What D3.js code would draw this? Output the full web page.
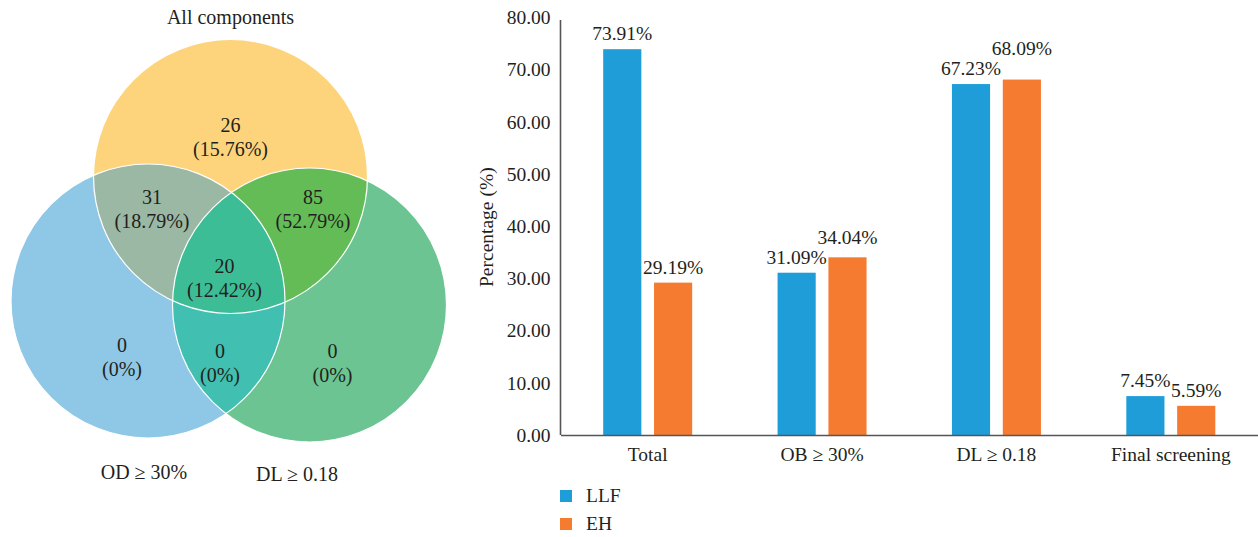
<!DOCTYPE html>
<html>
<head>
<meta charset="utf-8">
<script src="https://cdn.jsdelivr.net/npm/d3@7"></script>
<style>
  html, body { margin: 0; padding: 0; background: #fff; }
  svg { display: block; }
  svg text { font-family: "Liberation Serif", "DejaVu Serif", serif; fill: #231f20; }
</style>
</head>
<body>
<svg id="chart" width="1258" height="537"></svg>
<script>
// ---- Venn diagram data ----
const vennSets = ["All components", "OD ≥ 30%", "DL ≥ 0.18"];
const vennRegions = ["A", "B", "C", "AB", "AC", "BC", "ABC"];
const vennCounts = [26, 0, 0, 31, 85, 0, 20];
const vennPercents = ["15.76%", "0%", "0%", "18.79%", "52.79%", "0%", "12.42%"];

// ---- Bar chart data ----
const categories = ["Total", "OB ≥ 30%", "DL ≥ 0.18", "Final screening"];
const seriesNames = ["LLF", "EH"];
const llfValues = [73.91, 31.09, 67.23, 7.45];
const ehValues = [29.19, 34.04, 68.09, 5.59];
const yTicks = [0, 10, 20, 30, 40, 50, 60, 70, 80];

const FONT = "'Liberation Serif', 'DejaVu Serif', serif";
const svg = d3.select("#chart");

// ================= Venn diagram =================
const venn = svg.append("g");
const R = 137;
// circle layout: centre of each set
const circles = [
  { key: "A", cx: 230.5, cy: 176.5, fill: "#fdd47b" },
  { key: "B", cx: 148,   cy: 301,   fill: "#8fc8e6" },
  { key: "C", cx: 309.5, cy: 305,   fill: "#6bc491" }
];
const overlapFill = { AB: "#9bb8a4", AC: "#63bc56", BC: "#41bfb1", ABC: "#3dbd96" };

const defs = svg.append("defs");
circles.forEach(c => {
  defs.append("clipPath").attr("id", "clip" + c.key)
    .append("circle").attr("cx", c.cx).attr("cy", c.cy).attr("r", R);
});
const byKey = Object.fromEntries(circles.map(c => [c.key, c]));

// base circles
venn.selectAll("circle.base").data(circles).join("circle")
  .attr("class", "base")
  .attr("cx", d => d.cx).attr("cy", d => d.cy).attr("r", R)
  .attr("fill", d => d.fill);

// pairwise overlaps
[["A", "B"], ["A", "C"], ["B", "C"]].forEach(([p, q]) => {
  venn.append("g").attr("clip-path", `url(#clip${p})`)
    .append("circle")
    .attr("cx", byKey[q].cx).attr("cy", byKey[q].cy).attr("r", R)
    .attr("fill", overlapFill[p + q]);
});
// triple overlap
venn.append("g").attr("clip-path", "url(#clipA)")
  .append("g").attr("clip-path", "url(#clipB)")
  .append("circle")
  .attr("cx", byKey.C.cx).attr("cy", byKey.C.cy).attr("r", R)
  .attr("fill", overlapFill.ABC);

// white outlines between regions
venn.selectAll("circle.edge").data(circles).join("circle")
  .attr("class", "edge")
  .attr("cx", d => d.cx).attr("cy", d => d.cy).attr("r", R)
  .attr("fill", "none").attr("stroke", "#fff").attr("stroke-width", 1.2);

// region label anchors
const regionPos = {
  A:   [230.5, 132],
  B:   [122, 352],
  C:   [332.5, 358],
  AB:  [152, 204],
  AC:  [313, 204],
  BC:  [220, 358],
  ABC: [224.5, 273]
};
const regionData = vennRegions.map((r, i) => ({ r, count: vennCounts[i], pct: vennPercents[i] }));
const regionText = venn.selectAll("g.region").data(regionData).join("g")
  .attr("class", "region")
  .attr("transform", d => `translate(${regionPos[d.r][0]},${regionPos[d.r][1]})`);
regionText.append("text").attr("text-anchor", "middle").attr("font-size", 20)
  .text(d => d.count);
regionText.append("text").attr("text-anchor", "middle").attr("font-size", 20)
  .attr("y", 24).text(d => `(${d.pct})`);

// set names
const setLabelPos = [[230.5, 24], [144, 479], [297, 481]];
venn.selectAll("text.setname").data(vennSets).join("text")
  .attr("class", "setname")
  .attr("x", (d, i) => setLabelPos[i][0]).attr("y", (d, i) => setLabelPos[i][1])
  .attr("text-anchor", "middle").attr("font-size", 20)
  .text(d => d);

// ================= Bar chart =================
const plot = { left: 560.5, right: 1258, top: 17.4, bottom: 435 };
const x0 = d3.scaleBand().domain(categories).range([plot.left, plot.right]);
const x1 = d3.scaleBand().domain(seriesNames)
  .range([x0.bandwidth() / 2 - 44.5, x0.bandwidth() / 2 + 44.5]).paddingInner(0.25);
const y = d3.scaleLinear().domain([0, 80]).range([plot.bottom, plot.top]);
const colors = { LLF: "#1e9dd8", EH: "#f47b30" };
const LABEL_GAP = 9;

const rows = categories.map((c, i) => ({ cat: c, vals: [
  { s: "LLF", v: llfValues[i] }, { s: "EH", v: ehValues[i] }
] }));

const bars = svg.append("g");
const groups = bars.selectAll("g").data(rows).join("g")
  .attr("transform", d => `translate(${x0(d.cat)},0)`);
groups.selectAll("rect").data(d => d.vals).join("rect")
  .attr("x", d => x1(d.s)).attr("width", x1.bandwidth())
  .attr("y", d => y(d.v)).attr("height", d => y(0) - y(d.v))
  .attr("fill", d => colors[d.s]);
groups.selectAll("text.val").data(d => d.vals).join("text")
  .attr("class", "val")
  .attr("x", d => x1(d.s) + x1.bandwidth() / 2)
  .attr("y", d => y(d.v) - LABEL_GAP)
  .attr("text-anchor", "middle").attr("font-size", 19.5)
  .text(d => d.v.toFixed(2) + "%");

// when the two labels of a group would collide, lift the one on the taller bar
const pitch = x1.step();
groups.each(function () {
  const [a, b] = d3.select(this).selectAll("text.val").nodes().map(n => ({
    n, v: d3.select(n).datum().v, w: n.getComputedTextLength(),
    ly: y(d3.select(n).datum().v) - LABEL_GAP
  }));
  const overlapX = (a.w + b.w) / 2 > pitch + 1;
  if (overlapX && Math.abs(a.ly - b.ly) < 20) {
    const hi = a.v >= b.v ? a : b;
    const lo = hi === a ? b : a;
    d3.select(hi.n).attr("y", lo.ly - 20);
  }
});

// y axis
const yAxis = svg.append("g").attr("transform", `translate(${plot.left},0)`)
  .call(d3.axisLeft(y).tickValues(yTicks).tickFormat(d3.format(".2f")).tickSize(0).tickPadding(10));
yAxis.attr("font-family", FONT).attr("font-size", 19.5);
yAxis.select(".domain").attr("stroke", "#555").attr("stroke-width", 1.6).attr("d", `M0,20V${plot.bottom}`);
yAxis.selectAll("text").attr("fill", "#231f20");

// x axis
const xAxis = svg.append("g").attr("transform", `translate(0,${plot.bottom})`)
  .call(d3.axisBottom(x0).tickSize(0).tickPadding(12));
xAxis.attr("font-family", FONT).attr("font-size", 19.5);
xAxis.select(".domain").attr("stroke", "#555").attr("stroke-width", 1.6);
xAxis.selectAll("text").attr("fill", "#231f20");

// y axis title
svg.append("text")
  .attr("transform", `translate(493,${(plot.top + plot.bottom) / 2 + 1}) rotate(-90)`)
  .attr("text-anchor", "middle").attr("font-size", 19.5)
  .text("Percentage (%)");

// legend
const legend = svg.append("g").attr("transform", "translate(560,490)");
const items = legend.selectAll("g").data(seriesNames).join("g")
  .attr("transform", (d, i) => `translate(0,${i * 28})`);
items.append("rect").attr("width", 12).attr("height", 12).attr("fill", d => colors[d]);
items.append("text").attr("x", 26).attr("y", 12).attr("font-size", 19.5).text(d => d);
</script>
</body>
</html>
